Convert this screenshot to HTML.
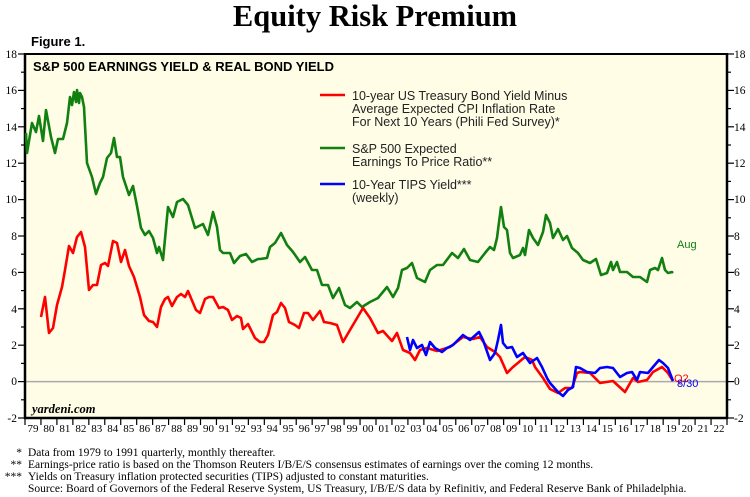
<!DOCTYPE html>
<html><head><meta charset="utf-8"><style>
html,body{margin:0;padding:0;background:#fff;}
svg{display:block;}
</style></head><body>
<svg width="750" height="497" xmlns="http://www.w3.org/2000/svg">
<text x="375" y="26" text-anchor="middle" font-family="Liberation Serif, serif" font-weight="bold" font-size="30.5">Equity Risk Premium</text>
<text x="31" y="46" font-family="Liberation Sans, sans-serif" font-weight="bold" font-size="13">Figure 1.</text>
<rect x="25" y="54" width="702" height="364" fill="#fffde6"/>
<line x1="25" y1="381.6" x2="727" y2="381.6" stroke="#aaa" stroke-width="1.5"/>
<g stroke="#000" stroke-width="1.5">
<line x1="25" y1="54" x2="727" y2="54" stroke-width="2"/>
<line x1="25" y1="53" x2="25" y2="419" stroke-width="2.5"/>
<line x1="727" y1="53" x2="727" y2="419" stroke-width="2.5"/>
<line x1="24" y1="418" x2="728" y2="418" stroke-width="2.5"/>
</g>
<g stroke="#000" stroke-width="1.2" id="ticks"></g>
<g font-family="Liberation Serif, serif" font-size="11.5" fill="#000">
<text x="17" y="58" text-anchor="end">18</text><text x="17" y="94" text-anchor="end">16</text><text x="17" y="131" text-anchor="end">14</text><text x="17" y="167" text-anchor="end">12</text><text x="17" y="203" text-anchor="end">10</text><text x="17" y="240" text-anchor="end">8</text><text x="17" y="276" text-anchor="end">6</text><text x="17" y="313" text-anchor="end">4</text><text x="17" y="349" text-anchor="end">2</text><text x="17" y="385" text-anchor="end">0</text><text x="17" y="422" text-anchor="end">-2</text>
<text x="734" y="58">18</text><text x="734" y="94">16</text><text x="734" y="131">14</text><text x="734" y="167">12</text><text x="734" y="203">10</text><text x="734" y="240">8</text><text x="734" y="276">6</text><text x="734" y="313">4</text><text x="734" y="349">2</text><text x="734" y="385">0</text><text x="734" y="422">-2</text>
</g>
<g font-family="Liberation Serif, serif" font-size="11" text-anchor="middle" id="years"></g>
<text x="33" y="71" font-family="Liberation Sans, sans-serif" font-weight="bold" font-size="13">S&amp;P 500 EARNINGS YIELD &amp; REAL BOND YIELD</text>
<text x="32" y="413" font-family="Liberation Serif, serif" font-weight="bold" font-style="italic" font-size="12.5">yardeni.com</text>
<g font-family="Liberation Sans, sans-serif" font-size="12.5" fill="#222">
<line x1="320" y1="95" x2="345" y2="95" stroke="#f00" stroke-width="2.5"/>
<text x="352" y="100">10-year US Treasury Bond Yield Minus</text>
<text x="352" y="113">Average Expected CPI Inflation Rate</text>
<text x="352" y="126">For Next 10 Years (Phili Fed Survey)*</text>
<line x1="320" y1="148" x2="345" y2="148" stroke="#118011" stroke-width="2.5"/>
<text x="352" y="153">S&amp;P 500 Expected</text>
<text x="352" y="166">Earnings To Price Ratio**</text>
<line x1="320" y1="184" x2="345" y2="184" stroke="#00f" stroke-width="2.5"/>
<text x="352" y="189">10-Year TIPS Yield***</text>
<text x="352" y="202">(weekly)</text>
</g>
<polyline fill="none" stroke="#118011" stroke-width="2.6" stroke-linejoin="round" points="26,133 27,153 32,123 36,132 39,116 43,141 46,110 51,137 55,153 58,139 63,139 67,123 70,97 72,105 74,92 76,102 77,90 79,103 80,93 82,97 84,107 87,163 92,177 96,194 100,183 103,177 107,158 111,153 114,138 117,157 120,157 123,177 129,195 133,186 137,206 141,228 145,235 149,231 153,238 157,253 159,247 163,260 168,207 173,217 177,202 183,199 188,205 195,228 203,224 208,235 213,212 217,227 220,250 223,253 230,253 234,263 240,256 246,254 252,262 258,259 260,259 267,258 270,247 275,243 281,233 287,245 293,252 300,262 305,257 312,270 317,270 322,285 328,285 333,298 339,288 345,305 350,308 357,302 362,307 370,302 378,298 387,287 393,297 398,288 402,270 407,268 412,263 417,278 425,282 430,270 437,265 443,265 452,253 458,258 464,249 470,260 478,262 485,253 490,247 494,250 497,238 498,230 501,207 504,227 507,230 510,253 513,258 520,255 523,248 525,255 529,230 533,238 538,245 543,232 546,215 550,223 553,238 558,229 563,240 567,236 572,248 578,253 583,260 590,263 596,259 601,275 607,273 611,262 613,270 617,262 620,272 627,272 633,277 640,277 647,282 650,270 655,268 658,270 662,258 665,270 668,273 672,272 673,273"/>
<polyline fill="none" stroke="#f00" stroke-width="2.6" stroke-linejoin="round" points="41,317 45,297 49,333 53,328 57,305 62,287 65,270 69,246 73,253 77,237 81,232 85,247 89,290 93,285 97,285 101,265 105,263 108,266 113,241 117,243 121,262 125,250 129,266 134,277 140,297 144,315 149,321 153,322 157,327 161,307 165,299 168,297 172,306 177,297 181,294 185,297 188,291 196,310 200,313 205,299 209,297 213,297 219,308 223,307 228,310 232,320 237,316 241,318 243,329 248,324 255,338 260,342 264,342 268,335 273,315 277,312 281,303 285,308 289,322 295,325 299,328 304,313 308,313 313,320 320,311 324,322 330,323 337,325 343,342 350,330 363,308 370,318 378,333 383,331 392,341 397,333 403,350 410,353 415,360 420,350 427,348 437,351 450,347 463,337 473,339 480,337 487,347 495,352 500,357 507,373 513,367 525,357 532,360 535,367 543,378 550,389 558,393 565,388 572,388 577,373 580,372 590,373 600,383 613,381 625,392 633,378 638,382 647,380 653,372 662,367 668,373 673,381"/>
<polyline fill="none" stroke="#00f" stroke-width="2.6" stroke-linejoin="round" points="407,337 410,350 413,340 417,348 422,345 426,355 430,342 435,348 442,352 447,348 453,345 463,335 470,340 479,332 483,340 490,360 495,353 498,340 501,325 503,343 507,348 512,347 517,357 523,353 530,363 537,358 542,367 547,378 550,383 558,392 563,396 568,390 573,387 576,367 580,368 587,372 595,373 600,368 607,367 613,368 620,377 627,373 632,372 637,380 640,372 648,373 653,367 659,360 663,363 668,368 673,381"/>
<text x="677" y="248" font-family="Liberation Sans, sans-serif" font-size="11" fill="#118011">Aug</text>
<text x="674" y="382" font-family="Liberation Sans, sans-serif" font-size="11" fill="#f00">Q2</text>
<text x="677" y="387" font-family="Liberation Sans, sans-serif" font-size="11" fill="#00f">8/30</text>
<g font-family="Liberation Serif, serif" font-size="11.5" fill="#000">
<text x="22" y="456" text-anchor="end">*</text><text x="28" y="456">Data from 1979 to 1991 quarterly, monthly thereafter.</text>
<text x="22" y="468" text-anchor="end">**</text><text x="28" y="468">Earnings-price ratio is based on the Thomson Reuters I/B/E/S consensus estimates of earnings over the coming 12 months.</text>
<text x="22" y="480" text-anchor="end">***</text><text x="28" y="480">Yields on Treasury inflation protected securities (TIPS) adjusted to constant maturities.</text>
<text x="28" y="492">Source: Board of Governors of the Federal Reserve System, US Treasury, I/B/E/S data by Refinitiv, and Federal Reserve Bank of Philadelphia.</text>
</g>
<script>
var ns="http://www.w3.org/2000/svg",t=document.getElementById("ticks"),yr=document.getElementById("years");
function L(x1,y1,x2,y2){var l=document.createElementNS(ns,"line");l.setAttribute("x1",x1);l.setAttribute("y1",y1);l.setAttribute("x2",x2);l.setAttribute("y2",y2);t.appendChild(l);}
for(var v=-2;v<=18;v++){var y=381.6-18.2*v;var len=(v%2==0)?7:4;L(25-len,y,25,y);L(727,y,727+len,y);}
var w=702/44;
for(var i=0;i<=44;i++){var x=25+i*w;L(x,418,x,425);}
for(var i=0;i<44;i++){var x=25+i*w+w/2;var tx=document.createElementNS(ns,"text");tx.setAttribute("x",x);tx.setAttribute("y",432);tx.textContent=String((79+i)%100).padStart(2,"0");yr.appendChild(tx);}
</script>
</svg>
</body></html>
